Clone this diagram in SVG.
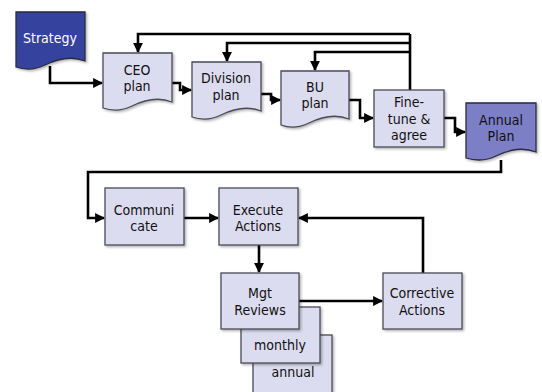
<svg xmlns="http://www.w3.org/2000/svg" width="542" height="392" viewBox="0 0 542 392">
  <style>
    .box { fill: #dcdcf0; stroke: #4a4a55; stroke-width: 1.3; filter: url(#shadow); }
    .dark { fill: #35439e; stroke: #2a2a40; stroke-width: 1.3; filter: url(#shadow); }
    .mid { fill: #7b7ec6; stroke: #2a2a40; stroke-width: 1.3; filter: url(#shadow); }
    .lbl { font-family: "DejaVu Sans", Verdana, sans-serif; font-stretch: condensed; font-size: 14px; fill: #111; text-anchor: middle; }
    .lbl.white { fill: #ffffff; }
    .wire { fill: none; stroke: #000; stroke-width: 2.6; stroke-linejoin: miter; marker-end: url(#arrow); }
    .plain { fill: none; stroke: #000; stroke-width: 2.6; }
  </style>
  <defs>
    <marker id="arrow" viewBox="0 0 10 10" refX="9" refY="5" markerWidth="3.8" markerHeight="3.8" orient="auto" markerUnits="strokeWidth">
      <path d="M0,0 L10,5 L0,10 Z" fill="#000"/>
    </marker>
    <filter id="shadow" x="-10%" y="-10%" width="130%" height="130%">
      <feDropShadow dx="1.5" dy="1.5" stdDeviation="1" flood-color="#000" flood-opacity="0.3"/>
    </filter>
  </defs>

  <rect width="542" height="392" fill="#ffffff"/>

  <!-- connectors -->
  <g id="connectors">
    <!-- planning chain -->
    <path class="wire" d="M50,66 V83 H102"/>
    <path class="wire" d="M172,83 H180 V90 H191"/>
    <path class="wire" d="M261,94 H271 V100 H280"/>
    <path class="wire" d="M349,100 H360 V118 H373"/>
    <path class="wire" d="M444,118 H455 V132 H465"/>
    <!-- feedback from fine-tune to each plan -->
    <path class="plain" d="M410,90 V34"/>
    <path class="wire" d="M410,34 H138 V52"/>
    <path class="wire" d="M410,43 H227 V61"/>
    <path class="wire" d="M410,52 H315 V70"/>
    <!-- annual plan down to communicate -->
    <path class="wire" d="M501,160 V172 H88 V218 H104"/>
    <path class="wire" d="M184,218 H218"/>
    <path class="wire" d="M259,245 V272"/>
    <path class="wire" d="M299,301 H382"/>
    <path class="wire" d="M423,273 V218 H299"/>
  </g>

  <!-- nodes -->
  <g id="strategy">
    <path class="dark" d="M16,12 H85 V61 C70,55 55,60 45,65 C35,70 25,70 16,67 Z"/>
    <text class="lbl white" x="50" y="43">Strategy</text>
  </g>

  <g id="ceo-plan">
    <path class="box" d="M103,53 H172 V102 C157,96 142,101 132,106 C122,111 112,111 103,108 Z"/>
    <text class="lbl" x="137" y="75">CEO</text>
    <text class="lbl" x="137" y="91">plan</text>
  </g>

  <g id="division-plan">
    <path class="box" d="M192,62 H261 V111 C246,105 231,110 221,115 C211,120 201,120 192,117 Z"/>
    <text class="lbl" x="226" y="83">Division</text>
    <text class="lbl" x="226" y="100">plan</text>
  </g>

  <g id="bu-plan">
    <path class="box" d="M281,71 H349 V119 C334,113 319,118 309,123 C299,128 289,128 281,125 Z"/>
    <text class="lbl" x="315" y="92">BU</text>
    <text class="lbl" x="315" y="108">plan</text>
  </g>

  <g id="fine-tune">
    <rect class="box" x="374" y="90" width="70" height="57"/>
    <text class="lbl" x="409" y="107">Fine-</text>
    <text class="lbl" x="409" y="124">tune &amp;</text>
    <text class="lbl" x="409" y="140">agree</text>
  </g>

  <g id="annual-plan">
    <path class="mid" d="M466,103 H536 V152 C521,146 506,151 496,156 C486,161 476,161 466,158 Z"/>
    <text class="lbl" x="501" y="125">Annual</text>
    <text class="lbl" x="501" y="141">Plan</text>
  </g>

  <g id="communicate">
    <rect class="box" x="105" y="188" width="79" height="57"/>
    <text class="lbl" x="144" y="215">Communi</text>
    <text class="lbl" x="144" y="231">cate</text>
  </g>

  <g id="execute-actions">
    <rect class="box" x="219" y="188" width="79" height="57"/>
    <text class="lbl" x="258" y="215">Execute</text>
    <text class="lbl" x="258" y="231">Actions</text>
  </g>

  <g id="annual">
    <rect class="box" x="253" y="335" width="79" height="62"/>
    <text class="lbl" x="293" y="377">annual</text>
  </g>

  <g id="monthly">
    <rect class="box" x="241" y="307" width="79" height="56"/>
    <text class="lbl" x="280" y="350">monthly</text>
  </g>

  <g id="mgt-reviews">
    <rect class="box" x="221" y="273" width="78" height="56"/>
    <text class="lbl" x="260" y="298">Mgt</text>
    <text class="lbl" x="260" y="315">Reviews</text>
  </g>

  <g id="corrective-actions">
    <rect class="box" x="383" y="273" width="79" height="56"/>
    <text class="lbl" x="422" y="298">Corrective</text>
    <text class="lbl" x="422" y="315">Actions</text>
  </g>
</svg>
